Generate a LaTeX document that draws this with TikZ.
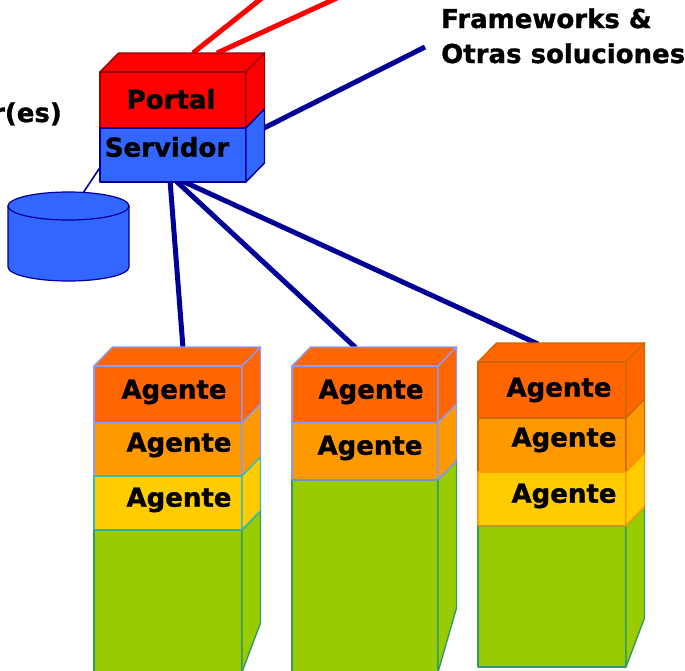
\documentclass[tikz,border=0pt]{standalone}
\usepackage{fontspec}
\setmainfont{DejaVu Sans}[BoldFeatures={FakeBold=1.2}]
\definecolor{portalred}{HTML}{FF0000}
\definecolor{portaledge}{HTML}{990000}
\definecolor{srvblue}{HTML}{3366FF}
\definecolor{navy}{HTML}{000099}
\definecolor{agA}{HTML}{FF6600}
\definecolor{agB}{HTML}{FF9900}
\definecolor{agC}{HTML}{FFCC00}
\definecolor{basegreen}{HTML}{99CC00}
\definecolor{peri}{HTML}{8899FF}
\definecolor{tealedge}{HTML}{33BBBB}
\definecolor{greenedge}{HTML}{339966}
\definecolor{darkor}{HTML}{CC6600}
\definecolor{oredge}{HTML}{FF9900}
\tikzset{
  lbl/.style={font=\fontsize{26}{31}\selectfont\bfseries, inner sep=0pt},
  navyline/.style={draw=navy, line width=5pt},
  redline/.style={draw=portalred, line width=5pt},
  thinline/.style={draw=navy, line width=1.6pt},
  face/.style={line width=1.4pt, line join=round}
}
% front + right face of one slab: x1,x2,ytop,ybot,fill,edge
\newcommand\slabbox[6]{%
  \filldraw[face,fill=#5,draw=#6] (#1,#3) rectangle (#2,#4);
  \filldraw[face,fill=#5,draw=#6] (#2,#3) -- ++(18.5,-19) -- ++(0,#4-#3) -- (#2,#4) -- cycle;
}
\newcommand\topface[5]{% x1,x2,ytop,fill,edge
  \filldraw[face,fill=#4,draw=#5] (#1,#3) -- ++(18.5,-19) -- (#2+18.5,#3-19) -- (#2,#3) -- cycle;
}
\begin{document}
\begin{tikzpicture}[x=1pt,y=-1pt]
\useasboundingbox (0,0) rectangle (685,670);
\clip (0,0) rectangle (685,670);

% connector end points
\coordinate (p1) at (193,53);
\coordinate (p2) at (217,53);
\coordinate (r1) at (262,-2);
\coordinate (r2) at (337,-2);
\coordinate (f1) at (262,129);
\coordinate (f2) at (425,47);
\coordinate (s1) at (170,180);
\coordinate (s2) at (175,180);
\coordinate (s3) at (180,180);
\coordinate (a1) at (183,348);
\coordinate (a2) at (356,348);
\coordinate (a3) at (538,344);
\coordinate (db) at (83,193);
\coordinate (sv) at (105,160);

% connectors (behind the boxes)
\draw[redline] (p1) -- (r1);
\draw[redline] (p2) -- (r2);
\draw[navyline] (f1) -- (f2);
\draw[navyline] (s1) -- (a1);
\draw[navyline] (s2) -- (a2);
\draw[navyline] (s3) -- (a3);
\draw[thinline] (db) -- (sv);

% server box
\topface{100}{246}{72}{portalred}{portaledge}
\slabbox{100}{246}{72}{128}{portalred}{portaledge}
\slabbox{100}{246}{128}{182}{srvblue}{navy}
\node[lbl] (portal) at (171,99) {Portal};
\node[lbl] (servidor) at (167,147) {Servidor};

% database cylinder
\filldraw[fill=srvblue, draw=navy, line width=1.2pt]
  (8,206) -- (8,267) arc[start angle=180, end angle=0, x radius=60.5, y radius=14] -- (129,206) -- cycle;
\filldraw[fill=srvblue, draw=navy, line width=1.2pt] (68.5,206) ellipse[x radius=60.5, y radius=14];

% labels
\node[lbl, anchor=base east] (users) at (62,122) {r(es)};
\node[lbl, anchor=base west, align=left] (fw1) at (441,28) {Frameworks \&};
\node[lbl, anchor=base west] (fw2) at (441,63) {Otras soluciones};

% stack 1
\topface{94}{242}{366}{agA}{peri}
\slabbox{94}{242}{366}{423}{agA}{peri}
\slabbox{94}{242}{423}{476}{agB}{peri}
\slabbox{94}{242}{476}{530}{agC}{tealedge}
\filldraw[face,fill=basegreen,draw=greenedge] (94,530) rectangle (242,690);
\filldraw[face,fill=basegreen,draw=greenedge] (242,530) -- ++(18.5,-19) -- (260.5,623) -- (242,672) -- cycle;
\draw[face,draw=tealedge] (94,530) -- (242,530) -- (260.5,511);
\node[lbl] (s1a) at (174,392) {Agente};
\node[lbl] (s1b) at (179,445) {Agente};
\node[lbl] (s1c) at (179,500) {Agente};

% stack 2
\topface{292}{438}{366}{agA}{peri}
\slabbox{292}{438}{366}{423}{agA}{peri}
\slabbox{292}{438}{423}{480}{agB}{peri}
\filldraw[face,fill=basegreen,draw=greenedge] (292,480) rectangle (438,690);
\filldraw[face,fill=basegreen,draw=greenedge] (438,480) -- ++(18.5,-19) -- (456.5,608) -- (438,672) -- cycle;
\draw[face,draw=peri] (292,480) -- (438,480) -- (456.5,461);
\node[lbl] (s2a) at (371,392) {Agente};
\node[lbl] (s2b) at (370,448) {Agente};

% stack 3
\topface{478}{626}{362}{agA}{darkor}
\slabbox{478}{626}{362}{418}{agA}{darkor}
\slabbox{478}{626}{418}{472}{agB}{darkor}
\slabbox{478}{626}{472}{526}{agC}{oredge}
\filldraw[face,fill=basegreen,draw=greenedge] (478,526) rectangle (626,667);
\filldraw[face,fill=basegreen,draw=greenedge] (626,526) -- ++(18.5,-19) -- (644.5,618) -- (626,667) -- cycle;
\draw[face,draw=oredge] (478,526) -- (626,526) -- (644.5,507);
\node[lbl] (s3a) at (559,390) {Agente};
\node[lbl] (s3b) at (564,440) {Agente};
\node[lbl] (s3c) at (564,496) {Agente};
\end{tikzpicture}
\end{document}
